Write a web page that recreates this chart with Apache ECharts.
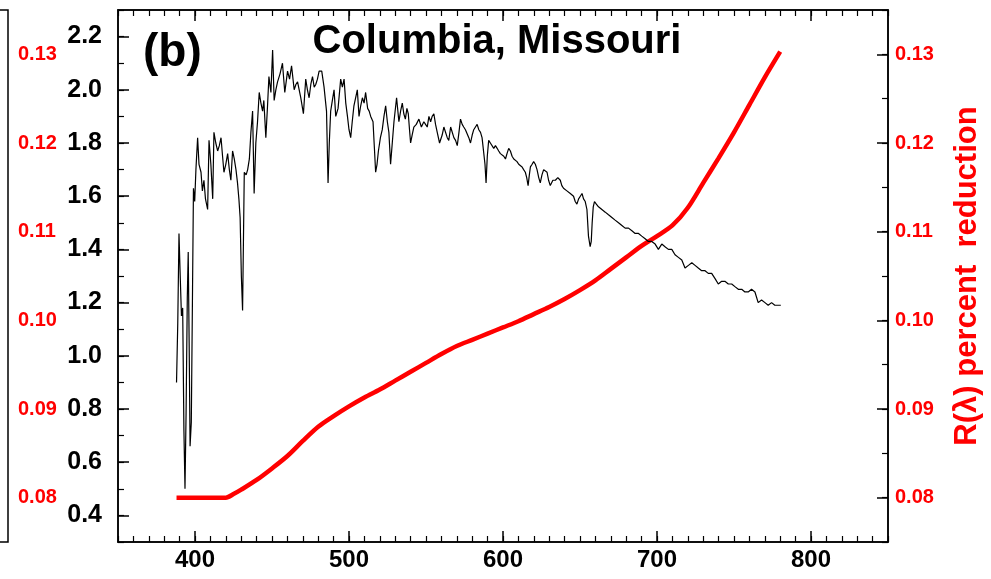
<!DOCTYPE html>
<html>
<head>
<meta charset="utf-8">
<script src="https://cdn.jsdelivr.net/npm/echarts@6/dist/echarts.min.js"></script>
<style>
html,body{margin:0;padding:0;background:#fff;}
#chart{width:991px;height:579px;}
</style>
</head>
<body>
<div id="chart"></div>
<script>
// ---- data ----
const titleText = 'Columbia, Missouri';
const panelLabel = '(b)';
const rightAxisName = 'R(\u03bb) percent  reduction';

const xTickLabels = [400, 500, 600, 700, 800];
const leftTickLabels = [0.4, 0.6, 0.8, 1.0, 1.2, 1.4, 1.6, 1.8, 2.0, 2.2];
const rightTickLabels = [0.08, 0.09, 0.10, 0.11, 0.12, 0.13];

// solar spectrum (black, left axis)
const specWl = [388.0,388.8,389.6,390.4,391.2,392.0,392.8,393.5,394.2,395.0,395.6,396.2,396.8,397.6,398.4,399.0,399.8,400.6,401.7,402.6,
403.9,404.8,405.8,406.8,408.2,409.1,410.3,411.5,412.3,413.5,414.7,415.8,416.9,417.9,418.8,420.0,421.2,422.3,423.3,424.4,
425.5,426.6,427.6,428.5,429.3,430.1,430.9,432.0,433.2,434.2,435.3,436.3,437.4,438.4,439.5,440.6,441.7,442.8,443.9,444.7,
446.0,447.1,448.0,449.3,450.4,451.4,452.5,453.6,455.2,456.8,458.3,460.1,461.4,462.7,464.4,465.5,466.6,468.7,470.4,471.9,
473.0,474.1,475.2,476.3,477.4,478.4,479.5,480.6,482.3,483.8,485.4,486.4,487.2,488.1,489.2,490.3,491.4,492.9,494.6,495.7,
496.8,497.9,499.0,500.0,501.1,502.1,503.2,504.3,505.4,506.5,507.6,508.7,509.8,510.8,512.1,513.1,514.1,515.6,516.5,517.3,
518.2,519.1,520.4,521.6,522.7,523.8,524.9,525.9,527.0,528.1,529.2,530.9,532.4,533.5,534.6,535.6,536.6,537.6,538.5,539.3,
540.0,541.0,542.1,543.7,545.4,547.0,548.6,549.7,550.8,551.9,553.0,554.0,555.1,556.2,557.3,558.8,560.5,561.6,562.7,563.8,
564.8,566.0,567.0,568.1,569.2,570.3,571.4,572.4,573.5,574.5,575.6,576.7,577.8,578.9,580.0,581.0,582.1,583.2,584.3,585.4,
586.4,587.5,588.3,589.0,589.8,590.7,591.8,592.9,594.0,595.1,596.2,597.2,598.3,599.4,600.5,601.6,602.6,603.7,604.8,605.9,
607.0,608.0,609.1,610.2,611.3,612.4,613.4,614.5,615.4,616.3,617.1,617.8,618.9,619.9,621.0,622.1,623.2,624.2,625.3,626.4,
627.5,628.6,629.6,630.7,632.4,634.0,635.6,637.2,638.2,639.3,640.4,641.5,642.6,643.7,644.7,645.8,646.9,648.0,649.1,650.2,
651.3,652.3,653.4,654.5,655.5,656.6,657.3,657.9,658.6,659.4,660.6,662.0,664.2,666.4,668.5,670.7,672.8,675.0,677.2,679.3,
681.5,683.7,685.8,688.0,690.1,692.3,694.4,696.6,698.8,700.9,703.1,705.2,707.4,709.6,711.7,713.9,716.1,718.2,720.4,722.6,
724.7,726.8,729.0,731.2,733.3,735.5,737.7,739.8,742.0,744.1,746.3,748.5,750.6,752.8,755.0,757.1,759.2,761.4,763.6,765.7,
767.9,770.1,772.2,774.4,776.5,778.7,780.4];
const specVal = [0.90,1.12,1.46,1.30,1.15,1.18,0.72,0.50,0.78,1.22,1.39,1.05,0.66,0.75,1.25,1.63,1.58,1.70,1.82,1.72,
1.69,1.62,1.66,1.59,1.55,1.81,1.72,1.59,1.84,1.80,1.77,1.79,1.82,1.75,1.69,1.72,1.76,1.70,1.66,1.77,
1.74,1.70,1.65,1.59,1.52,1.30,1.17,1.69,1.68,1.70,1.74,1.84,1.92,1.61,1.80,1.88,1.99,1.95,1.92,1.96,
1.82,1.94,2.05,1.99,2.15,1.96,2.00,2.03,2.06,2.10,1.99,2.07,2.04,2.09,2.00,2.02,2.03,1.97,1.91,2.04,
2.00,1.97,2.02,2.05,2.01,2.02,2.04,2.07,2.07,2.01,1.92,1.65,1.80,1.92,1.96,2.00,1.90,1.93,2.04,2.01,
2.04,1.95,1.90,1.85,1.82,1.88,1.94,1.97,2.00,1.90,1.94,1.97,1.95,1.99,1.93,1.92,1.90,1.88,1.78,1.69,
1.72,1.77,1.82,1.85,1.90,1.94,1.88,1.84,1.72,1.80,1.88,1.97,1.88,1.92,1.95,1.91,1.89,1.93,1.91,1.85,
1.80,1.83,1.86,1.87,1.89,1.86,1.88,1.87,1.86,1.90,1.88,1.90,1.91,1.87,1.84,1.80,1.83,1.86,1.86,1.82,
1.81,1.86,1.86,1.82,1.81,1.79,1.84,1.89,1.87,1.86,1.85,1.85,1.82,1.80,1.83,1.85,1.86,1.87,1.85,1.84,
1.82,1.82,1.72,1.65,1.75,1.81,1.80,1.80,1.78,1.79,1.78,1.77,1.76,1.76,1.75,1.74,1.76,1.78,1.77,1.75,
1.74,1.74,1.73,1.72,1.72,1.71,1.70,1.69,1.67,1.64,1.68,1.71,1.72,1.73,1.72,1.70,1.67,1.65,1.68,1.70,
1.70,1.69,1.66,1.64,1.66,1.66,1.67,1.66,1.64,1.63,1.63,1.62,1.62,1.61,1.61,1.60,1.58,1.57,1.59,1.60,
1.61,1.59,1.58,1.55,1.45,1.41,1.43,1.50,1.56,1.58,1.57,1.56,1.55,1.54,1.53,1.52,1.51,1.50,1.49,1.48,
1.48,1.47,1.46,1.46,1.45,1.44,1.43,1.43,1.42,1.40,1.42,1.41,1.40,1.40,1.38,1.37,1.36,1.33,1.34,1.35,
1.34,1.33,1.32,1.32,1.31,1.31,1.29,1.27,1.28,1.28,1.27,1.27,1.26,1.25,1.25,1.24,1.24,1.25,1.24,1.20,
1.21,1.20,1.19,1.20,1.19,1.19,1.19];

// R(lambda) percent reduction (red, right axis)
const redWl = [388,395,400,410,420,425,430,440,450,460,470,480,490,500,510,520,530,540,550,560,
570,580,590,600,610,620,630,640,650,660,670,680,690,700,710,720,730,740,750,760,770,780];
const redVal = [0.0800,0.0800,0.0800,0.0800,0.0800,0.0804,0.0809,0.0820,0.0833,0.0847,0.0864,0.0880,0.0892,0.0903,0.0913,0.0922,0.0932,0.0942,0.0952,0.0962,
0.0971,0.0978,0.0985,0.0992,0.0999,0.1007,0.1015,0.1024,0.1034,0.1045,0.1058,0.1071,0.1084,0.1095,0.1107,0.1127,0.1155,0.1183,0.1212,0.1243,0.1274,0.1303];

// ---- chart ----
const FONT = '"Liberation Sans", Arial, sans-serif';
const RED = '#ff0000';
const specData = specWl.map((w, i) => [w, specVal[i]]);
const redData = redWl.map((w, i) => [w, redVal[i]]);

const chart = echarts.init(document.getElementById('chart'), null, {renderer: 'canvas'});

const lineStyle = {color: '#000', width: 1.5};
const hidden = {show: false};

const option = {
  animation: false,
  backgroundColor: '#fff',
  grid: [
    {left: 118, top: 10, width: 770, height: 532, show: true, borderColor: '#000', borderWidth: 1.5,
     backgroundColor: 'transparent', outerBoundsMode: 'none', containLabel: false},
    {left: -300, top: 10, width: 308, height: 532, show: true, borderColor: '#000', borderWidth: 1.5,
     backgroundColor: 'transparent', outerBoundsMode: 'none', containLabel: false}
  ],
  xAxis: [
    {type: 'value', gridIndex: 0, position: 'bottom', min: 350, max: 850, interval: 10,
     axisLine: {show: true, lineStyle: lineStyle},
     axisTick: {show: true, inside: true, length: 6, lineStyle: {color: '#000', width: 1.2}},
     axisLabel: {show: true, customValues: xTickLabels, margin: 6, color: '#000', fontSize: 24, fontWeight: 'bold', fontFamily: FONT},
     splitLine: hidden},
    {type: 'value', gridIndex: 0, position: 'bottom', min: 350, max: 850,
     axisLine: hidden,
     axisTick: {show: true, inside: true, length: 11, customValues: xTickLabels, lineStyle: {color: '#000', width: 1.5}},
     axisLabel: hidden, splitLine: hidden},
    {type: 'value', gridIndex: 0, position: 'top', min: 350, max: 850, interval: 10,
     axisLine: {show: true, lineStyle: lineStyle},
     axisTick: {show: true, inside: true, length: 6, lineStyle: {color: '#000', width: 1.2}},
     axisLabel: hidden, splitLine: hidden},
    {type: 'value', gridIndex: 0, position: 'top', min: 350, max: 850,
     axisLine: hidden,
     axisTick: {show: true, inside: true, length: 11, customValues: xTickLabels, lineStyle: {color: '#000', width: 1.5}},
     axisLabel: hidden, splitLine: hidden},
    {type: 'value', gridIndex: 1, min: 0, max: 1, show: false}
  ],
  yAxis: [
    {type: 'value', gridIndex: 0, position: 'left', min: 0.3, max: 2.3, interval: 0.1,
     axisLine: {show: true, lineStyle: lineStyle},
     axisTick: {show: true, inside: true, length: 6, lineStyle: {color: '#000', width: 1.2}},
     axisLabel: {show: true, customValues: leftTickLabels, margin: 16, color: '#000', fontSize: 25, fontWeight: 'bold', fontFamily: FONT,
       formatter: v => Number(v).toFixed(1)},
     splitLine: hidden},
    {type: 'value', gridIndex: 0, position: 'right', min: 0.075, max: 0.135, interval: 0.005,
     axisLine: {show: true, lineStyle: lineStyle},
     axisTick: {show: true, inside: true, length: 6, lineStyle: {color: '#000', width: 1.2}},
     axisLabel: {show: true, customValues: rightTickLabels, margin: 7, color: RED, fontSize: 20, fontWeight: 'bold', fontFamily: FONT,
       formatter: v => Number(v).toFixed(2)},
     name: rightAxisName, nameLocation: 'middle', nameRotate: 90, nameGap: 64,
     nameTextStyle: {color: RED, fontSize: 31, fontWeight: 'bold', fontFamily: FONT},
     splitLine: hidden},
    {type: 'value', gridIndex: 0, position: 'left', min: 0.3, max: 2.3,
     axisLine: hidden,
     axisTick: {show: true, inside: true, length: 11, customValues: leftTickLabels, lineStyle: {color: '#000', width: 1.5}},
     axisLabel: hidden, splitLine: hidden},
    {type: 'value', gridIndex: 0, position: 'right', min: 0.075, max: 0.135,
     axisLine: hidden,
     axisTick: {show: true, inside: true, length: 11, customValues: rightTickLabels, lineStyle: {color: '#000', width: 1.5}},
     axisLabel: hidden, splitLine: hidden},
    // partial neighbouring panel at the left edge
    {type: 'value', gridIndex: 1, position: 'right', min: 0.075, max: 0.135, interval: 0.005,
     axisLine: {show: true, lineStyle: lineStyle},
     axisTick: {show: true, inside: true, length: 8, lineStyle: {color: '#000', width: 1.2}},
     axisLabel: {show: true, customValues: rightTickLabels, margin: 10, color: RED, fontSize: 20, fontWeight: 'bold', fontFamily: FONT,
       formatter: v => Number(v).toFixed(2)},
     splitLine: hidden}
  ],
  graphic: [
    {type: 'text', left: 143, top: 30, style: {text: panelLabel, fill: '#000', font: 'bold 46px ' + FONT}},
    {type: 'text', x: 497, y: 42, style: {text: titleText, fill: '#000', font: 'bold 40px ' + FONT, align: 'center', verticalAlign: 'middle'}}
  ],
  series: [
    {type: 'line', xAxisIndex: 0, yAxisIndex: 1, data: redData, showSymbol: false, smooth: 0.3,
     lineStyle: {color: RED, width: 4.5}, z: 2},
    {type: 'line', xAxisIndex: 0, yAxisIndex: 0, data: specData, showSymbol: false,
     lineStyle: {color: '#000', width: 1.2}, z: 3}
  ]
};
chart.setOption(option);
</script>
</body>
</html>
